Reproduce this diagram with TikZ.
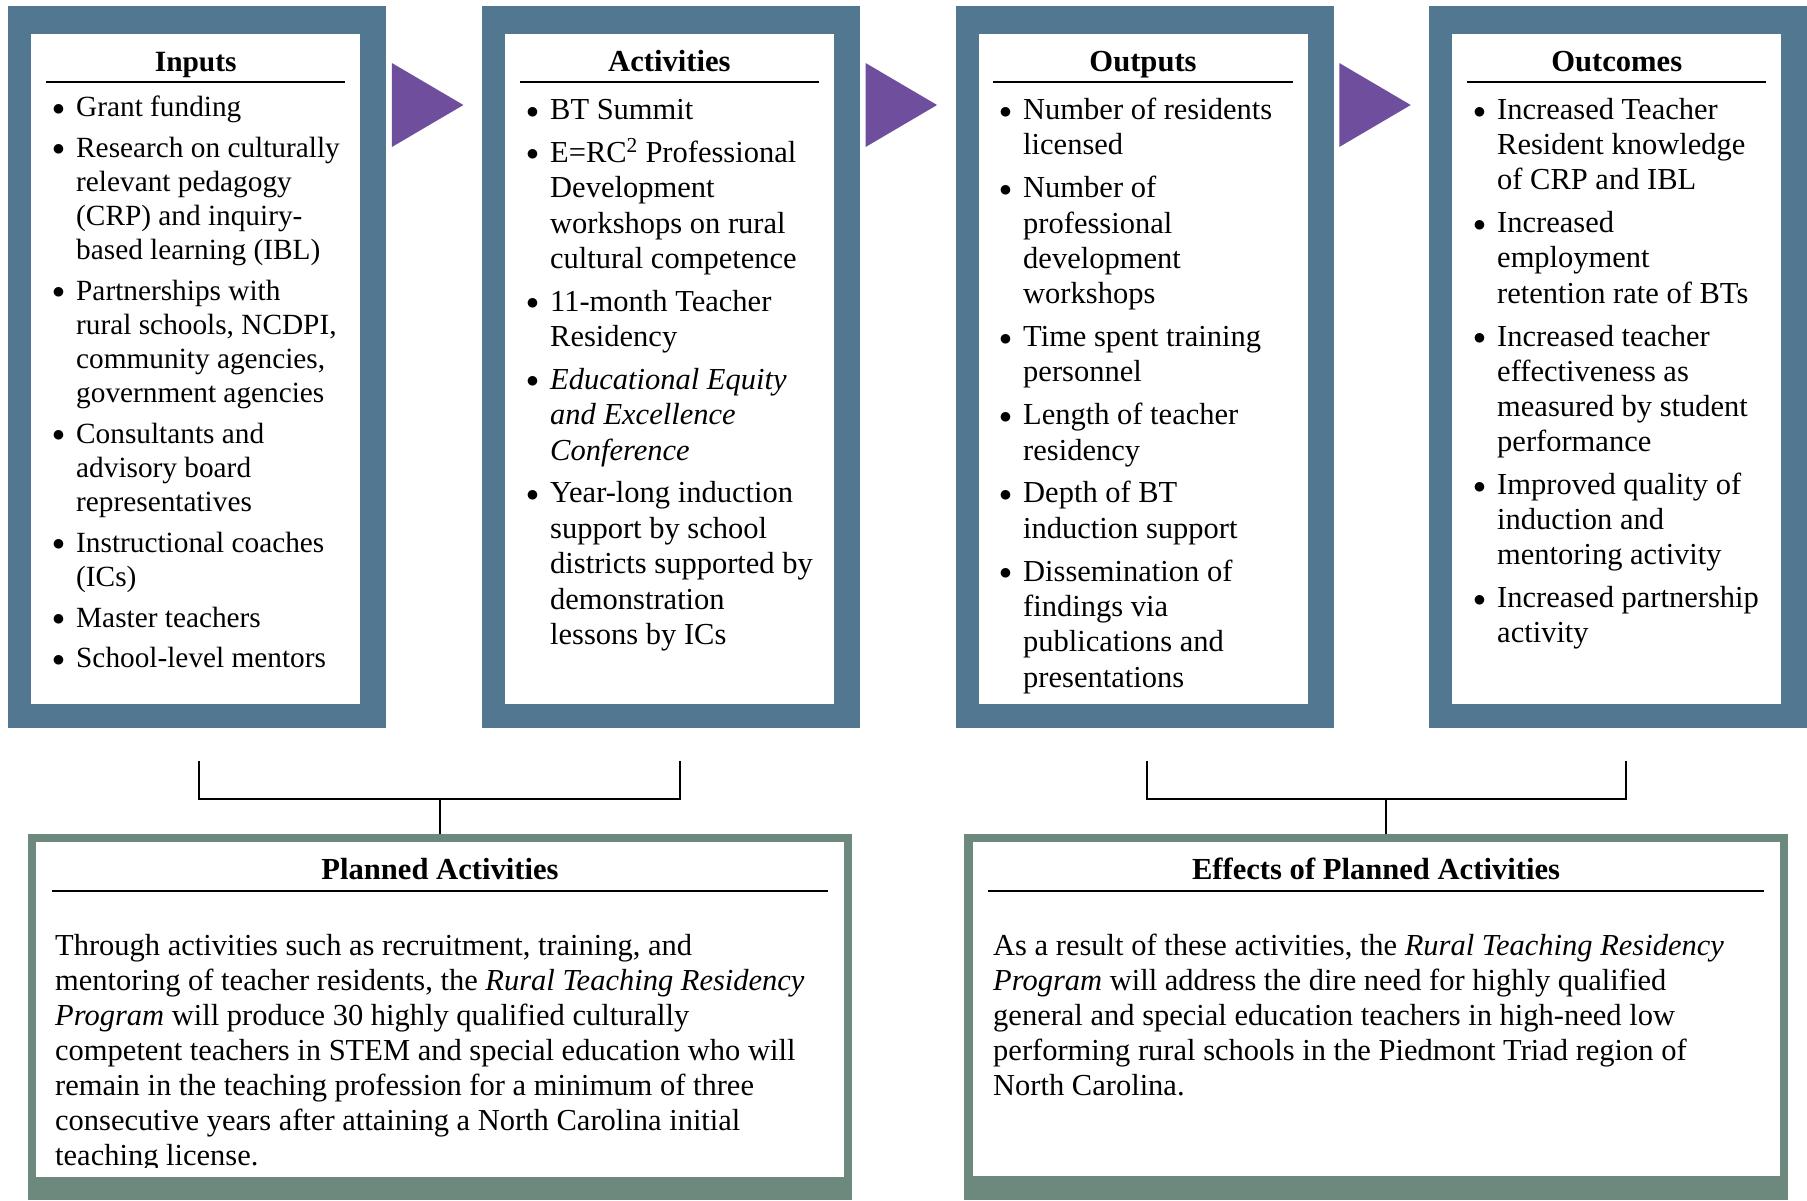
\documentclass[tikz,border=0pt]{standalone}
\usepackage{fontspec}
\setmainfont{Liberation Serif}
\usetikzlibrary{calc}

\definecolor{framec}{HTML}{527891}
\definecolor{groundc}{HTML}{6D887D}
\definecolor{arrowc}{HTML}{6F4E9E}

\newcommand\bitem{\par\leavevmode\llap{\raisebox{1.5pt}{$\bullet$}\hspace{11.4pt}}}
\newcommand\itemlist[4]{\parbox[t]{300pt}{\fontsize{#1}{#2}\selectfont
  \raggedright\setlength\parskip{#3}#4}}
\newcommand\bodytext[1]{\parbox[t]{820pt}{\fontsize{30.5}{35.1}\selectfont
  \raggedright #1}}

\begin{document}
\begin{tikzpicture}[x=1pt, y=-1pt,
    frame/.style = {
      fill = framec,
      rectangle,
      inner sep = 0pt,
      anchor = north west,
      minimum width = 378pt,
      minimum height = 722pt
    },
    paper/.style = {
      fill = white,
      rectangle,
      inner sep = 0pt,
      anchor = north west
    },
    ground/.style = {
      fill = groundc,
      rectangle,
      inner sep = 0pt,
      anchor = north west,
      minimum width = 824pt,
      minimum height = 366pt
    },
    head/.style = {
      anchor = base,
      inner sep = 0pt,
      font = \fontsize{#1}{34}\selectfont\bfseries
    },
    head/.default = 30.6,
    list/.style = {
      anchor = base west,
      inner sep = 0pt
    },
    rule/.style = {line width = 2pt},
    bracket/.style = {line width = 2pt}
  ]
  \useasboundingbox (0,0) rectangle (1807,1200);

  \foreach \name/\title/\hs [count=\i from 0] in {inputs/Inputs/29.4, activities/Activities/30.6, outputs/Outputs/30.6, outcomes/Outcomes/30.6} {
    \node[frame] (\name) at (8+473.67*\i,6) {};
    \node[paper, minimum width=329pt, minimum height=670pt] (\name in) at ($(\name.north west)+(23,28)$) {};
    \node[head=\hs] (\name head) at ($(\name in.north)+(0,37)$) {\title};
    \draw[rule] ($(\name in.north west)+(15,47.5)$) -- ($(\name in.north east)+(-15,47.5)$);
  }

  \foreach \a in {inputs, activities, outputs}
    \fill[arrowc] ($(\a.north east)+(5.5,57)$) -- ($(\a.north east)+(77,99)$) -- ($(\a.north east)+(5.5,141)$) -- cycle;

  \node[list] (inlist) at (76,116.7) {\itemlist{29.3}{34.1pt}{6.6pt}{%
    \bitem Grant funding
    \bitem Research on culturally\\ relevant pedagogy\\ (CRP) and inquiry-\\ based learning (IBL)
    \bitem Partnerships with\\ rural schools, NCDPI,\\ community agencies,\\ government agencies
    \bitem Consultants and\\ advisory board\\ representatives
    \bitem Instructional coaches\\ (ICs)
    \bitem Master teachers
    \bitem School-level mentors}};
  \node[list] (actlist) at (550,119.5) {\itemlist{30.5}{35.5pt}{7pt}{%
    \bitem BT Summit
    \bitem E=RC\textsuperscript{2} Professional\\ Development\\ workshops on rural\\ cultural competence
    \bitem 11-month Teacher\\ Residency
    \bitem {\itshape Educational Equity\\ and Excellence\\ Conference}
    \bitem Year-long induction\\ support by school\\ districts supported by\\ demonstration\\ lessons by ICs}};
  \node[list] (outlist) at (1023,119.5) {\itemlist{30.5}{35.3pt}{7.6pt}{%
    \bitem Number of residents\\ licensed
    \bitem Number of\\ professional\\ development\\ workshops
    \bitem Time spent training\\ personnel
    \bitem Length of teacher\\ residency
    \bitem Depth of BT\\ induction support
    \bitem Dissemination of\\ findings via\\ publications and\\ presentations}};
  \node[list] (comelist) at (1497,119.5) {\itemlist{30.5}{35.1pt}{8pt}{%
    \bitem Increased Teacher\\ Resident knowledge\\ of CRP and IBL
    \bitem Increased\\ employment\\ retention rate of BTs
    \bitem Increased teacher\\ effectiveness as\\ measured by student\\ performance
    \bitem Improved quality of\\ induction and\\ mentoring activity
    \bitem Increased partnership\\ activity}};

  \node[ground] (planned) at (27.5,834) {};
  \node[paper, minimum width=808pt, minimum height=335pt] (planned in) at (35.6,842) {};
  \node[ground] (effects) at (963.5,834) {};
  \node[paper, minimum width=807pt, minimum height=334pt] (effects in) at (973,842) {};

  \coordinate (pa1) at (199,761);
  \coordinate (pa2) at (680,761);
  \coordinate (ef1) at (1146.6,761);
  \coordinate (ef2) at (1626,761);
  \draw[bracket] (pa1) -- ++(0,38) -| (pa2);
  \draw[bracket] (ef1) -- ++(0,38) -| (ef2);
  \coordinate (pamid) at ($(pa1)!0.5!(pa2)+(0,38)$);
  \coordinate (efmid) at ($(ef1)!0.5!(ef2)+(0,38)$);
  \draw[bracket] (pamid) -- (pamid |- planned.north);
  \draw[bracket] (efmid) -- (efmid |- effects.north);

  \node[head] (plannedhead) at (440,879.3) {Planned Activities};
  \draw[rule] (52,890.7) -- (828,890.7);
  \node[head] (effectshead) at (1376,879.3) {Effects of Planned Activities};
  \draw[rule] (988,890.7) -- (1764,890.7);

  \begin{scope}
    \clip (35.6,842) rectangle (844,1167);
    \node[list] (plannedtext) at (55,955) {\bodytext{%
      Through activities such as recruitment, training, and\\
      mentoring of teacher residents, the \textit{Rural Teaching Residency}\\
      \textit{Program} will produce 30 highly qualified culturally\\
      competent teachers in STEM and special education who will\\
      remain in the teaching profession for a minimum of three\\
      consecutive years after attaining a North Carolina initial\\
      teaching license.}};
  \end{scope}
  \node[list] (effectstext) at (993,955) {\bodytext{%
    As a result of these activities, the \textit{Rural Teaching Residency}\\
    \textit{Program} will address the dire need for highly qualified\\
    general and special education teachers in high-need low\\
    performing rural schools in the Piedmont Triad region of\\
    North Carolina.}};
\end{tikzpicture}
\end{document}
